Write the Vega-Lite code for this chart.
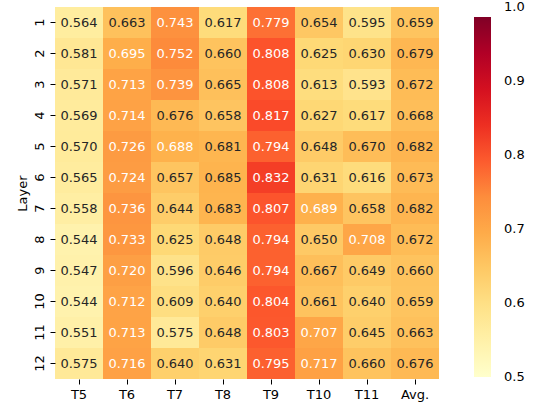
{
  "$schema": "https://vega.github.io/schema/vega-lite/v6.json",
  "width": 384,
  "height": 372,
  "autosize": "none",
  "padding": {"left": 55, "top": 7, "right": 96, "bottom": 24},
  "background": "white",
  "config": {
    "view": {"stroke": null},
    "font": "DejaVu Sans",
    "axis": {"labelFont": "DejaVu Sans", "titleFont": "DejaVu Sans"},
    "legend": {"labelFont": "DejaVu Sans"}
  },
  "data": {
    "values": [
      {"layer": 1, "task": "T5", "value": 0.564}, {"layer": 1, "task": "T6", "value": 0.663}, {"layer": 1, "task": "T7", "value": 0.743}, {"layer": 1, "task": "T8", "value": 0.617}, {"layer": 1, "task": "T9", "value": 0.779}, {"layer": 1, "task": "T10", "value": 0.654}, {"layer": 1, "task": "T11", "value": 0.595}, {"layer": 1, "task": "Avg.", "value": 0.659},
      {"layer": 2, "task": "T5", "value": 0.581}, {"layer": 2, "task": "T6", "value": 0.695}, {"layer": 2, "task": "T7", "value": 0.752}, {"layer": 2, "task": "T8", "value": 0.660}, {"layer": 2, "task": "T9", "value": 0.808}, {"layer": 2, "task": "T10", "value": 0.625}, {"layer": 2, "task": "T11", "value": 0.630}, {"layer": 2, "task": "Avg.", "value": 0.679},
      {"layer": 3, "task": "T5", "value": 0.571}, {"layer": 3, "task": "T6", "value": 0.713}, {"layer": 3, "task": "T7", "value": 0.739}, {"layer": 3, "task": "T8", "value": 0.665}, {"layer": 3, "task": "T9", "value": 0.808}, {"layer": 3, "task": "T10", "value": 0.613}, {"layer": 3, "task": "T11", "value": 0.593}, {"layer": 3, "task": "Avg.", "value": 0.672},
      {"layer": 4, "task": "T5", "value": 0.569}, {"layer": 4, "task": "T6", "value": 0.714}, {"layer": 4, "task": "T7", "value": 0.676}, {"layer": 4, "task": "T8", "value": 0.658}, {"layer": 4, "task": "T9", "value": 0.817}, {"layer": 4, "task": "T10", "value": 0.627}, {"layer": 4, "task": "T11", "value": 0.617}, {"layer": 4, "task": "Avg.", "value": 0.668},
      {"layer": 5, "task": "T5", "value": 0.570}, {"layer": 5, "task": "T6", "value": 0.726}, {"layer": 5, "task": "T7", "value": 0.688}, {"layer": 5, "task": "T8", "value": 0.681}, {"layer": 5, "task": "T9", "value": 0.794}, {"layer": 5, "task": "T10", "value": 0.648}, {"layer": 5, "task": "T11", "value": 0.670}, {"layer": 5, "task": "Avg.", "value": 0.682},
      {"layer": 6, "task": "T5", "value": 0.565}, {"layer": 6, "task": "T6", "value": 0.724}, {"layer": 6, "task": "T7", "value": 0.657}, {"layer": 6, "task": "T8", "value": 0.685}, {"layer": 6, "task": "T9", "value": 0.832}, {"layer": 6, "task": "T10", "value": 0.631}, {"layer": 6, "task": "T11", "value": 0.616}, {"layer": 6, "task": "Avg.", "value": 0.673},
      {"layer": 7, "task": "T5", "value": 0.558}, {"layer": 7, "task": "T6", "value": 0.736}, {"layer": 7, "task": "T7", "value": 0.644}, {"layer": 7, "task": "T8", "value": 0.683}, {"layer": 7, "task": "T9", "value": 0.807}, {"layer": 7, "task": "T10", "value": 0.689}, {"layer": 7, "task": "T11", "value": 0.658}, {"layer": 7, "task": "Avg.", "value": 0.682},
      {"layer": 8, "task": "T5", "value": 0.544}, {"layer": 8, "task": "T6", "value": 0.733}, {"layer": 8, "task": "T7", "value": 0.625}, {"layer": 8, "task": "T8", "value": 0.648}, {"layer": 8, "task": "T9", "value": 0.794}, {"layer": 8, "task": "T10", "value": 0.650}, {"layer": 8, "task": "T11", "value": 0.708}, {"layer": 8, "task": "Avg.", "value": 0.672},
      {"layer": 9, "task": "T5", "value": 0.547}, {"layer": 9, "task": "T6", "value": 0.720}, {"layer": 9, "task": "T7", "value": 0.596}, {"layer": 9, "task": "T8", "value": 0.646}, {"layer": 9, "task": "T9", "value": 0.794}, {"layer": 9, "task": "T10", "value": 0.667}, {"layer": 9, "task": "T11", "value": 0.649}, {"layer": 9, "task": "Avg.", "value": 0.660},
      {"layer": 10, "task": "T5", "value": 0.544}, {"layer": 10, "task": "T6", "value": 0.712}, {"layer": 10, "task": "T7", "value": 0.609}, {"layer": 10, "task": "T8", "value": 0.640}, {"layer": 10, "task": "T9", "value": 0.804}, {"layer": 10, "task": "T10", "value": 0.661}, {"layer": 10, "task": "T11", "value": 0.640}, {"layer": 10, "task": "Avg.", "value": 0.659},
      {"layer": 11, "task": "T5", "value": 0.551}, {"layer": 11, "task": "T6", "value": 0.713}, {"layer": 11, "task": "T7", "value": 0.575}, {"layer": 11, "task": "T8", "value": 0.648}, {"layer": 11, "task": "T9", "value": 0.803}, {"layer": 11, "task": "T10", "value": 0.707}, {"layer": 11, "task": "T11", "value": 0.645}, {"layer": 11, "task": "Avg.", "value": 0.663},
      {"layer": 12, "task": "T5", "value": 0.575}, {"layer": 12, "task": "T6", "value": 0.716}, {"layer": 12, "task": "T7", "value": 0.640}, {"layer": 12, "task": "T8", "value": 0.631}, {"layer": 12, "task": "T9", "value": 0.795}, {"layer": 12, "task": "T10", "value": 0.717}, {"layer": 12, "task": "T11", "value": 0.660}, {"layer": 12, "task": "Avg.", "value": 0.676}
    ]
  },
  "encoding": {
    "x": {
      "field": "task",
      "type": "nominal",
      "sort": ["T5", "T6", "T7", "T8", "T9", "T10", "T11", "Avg."],
      "scale": {"paddingInner": 0, "paddingOuter": 0},
      "axis": {
        "title": null,
        "labelAngle": 0,
        "domain": false,
        "tickSize": 5,
        "tickColor": "#000000",
        "labelColor": "#000000",
        "labelFontSize": 13,
        "labelPadding": 4
      }
    },
    "y": {
      "field": "layer",
      "type": "ordinal",
      "sort": [1, 2, 3, 4, 5, 6, 7, 8, 9, 10, 11, 12],
      "scale": {"paddingInner": 0, "paddingOuter": 0},
      "axis": {
        "title": "Layer",
        "titleFontSize": 13,
        "titleFontWeight": "normal",
        "titleColor": "#000000",
        "titlePadding": 4,
        "labelAngle": 270,
        "domain": false,
        "tickSize": 5,
        "tickColor": "#000000",
        "labelColor": "#000000",
        "labelFontSize": 13,
        "labelPadding": 4
      }
    }
  },
  "layer": [
    {
      "mark": {"type": "rect"},
      "encoding": {
        "color": {
          "field": "value",
          "type": "quantitative",
          "scale": {
            "domain": [0.5, 0.5625, 0.625, 0.6875, 0.75, 0.8125, 0.875, 0.9375, 1.0],
            "range": ["#ffffcc", "#ffeda0", "#fed976", "#feb24c", "#fd8d3c", "#fc4e2a", "#e31a1c", "#bd0026", "#800026"],
            "interpolate": "rgb"
          },
          "legend": {
            "type": "gradient",
            "title": null,
            "orient": "right",
            "direction": "vertical",
            "offset": 35,
            "padding": 0,
            "gradientLength": 370,
            "gradientThickness": 17,
            "gradientStrokeWidth": 0,
            "values": [0.5, 0.6, 0.7, 0.8, 0.9, 1.0],
            "format": ".1f",
            "labelFontSize": 13,
            "labelColor": "#000000",
            "labelOffset": 13,
            "labelOverlap": false,
            "encode": {
              "labels": {"update": {"baseline": {"value": "middle"}}},
              "gradient": {
                "enter": {"y": {"value": 10}, "height": {"value": 360}},
                "update": {"y": {"value": 10}, "height": {"value": 360}}
              }
            }
          }
        }
      }
    },
    {
      "mark": {"type": "text", "fontSize": 13, "font": "DejaVu Sans"},
      "encoding": {
        "text": {"field": "value", "type": "quantitative", "format": ".3f"},
        "color": {
          "condition": {"test": "datum.value > 0.686", "value": "#ffffff"},
          "value": "#262626"
        }
      }
    }
  ]
}
